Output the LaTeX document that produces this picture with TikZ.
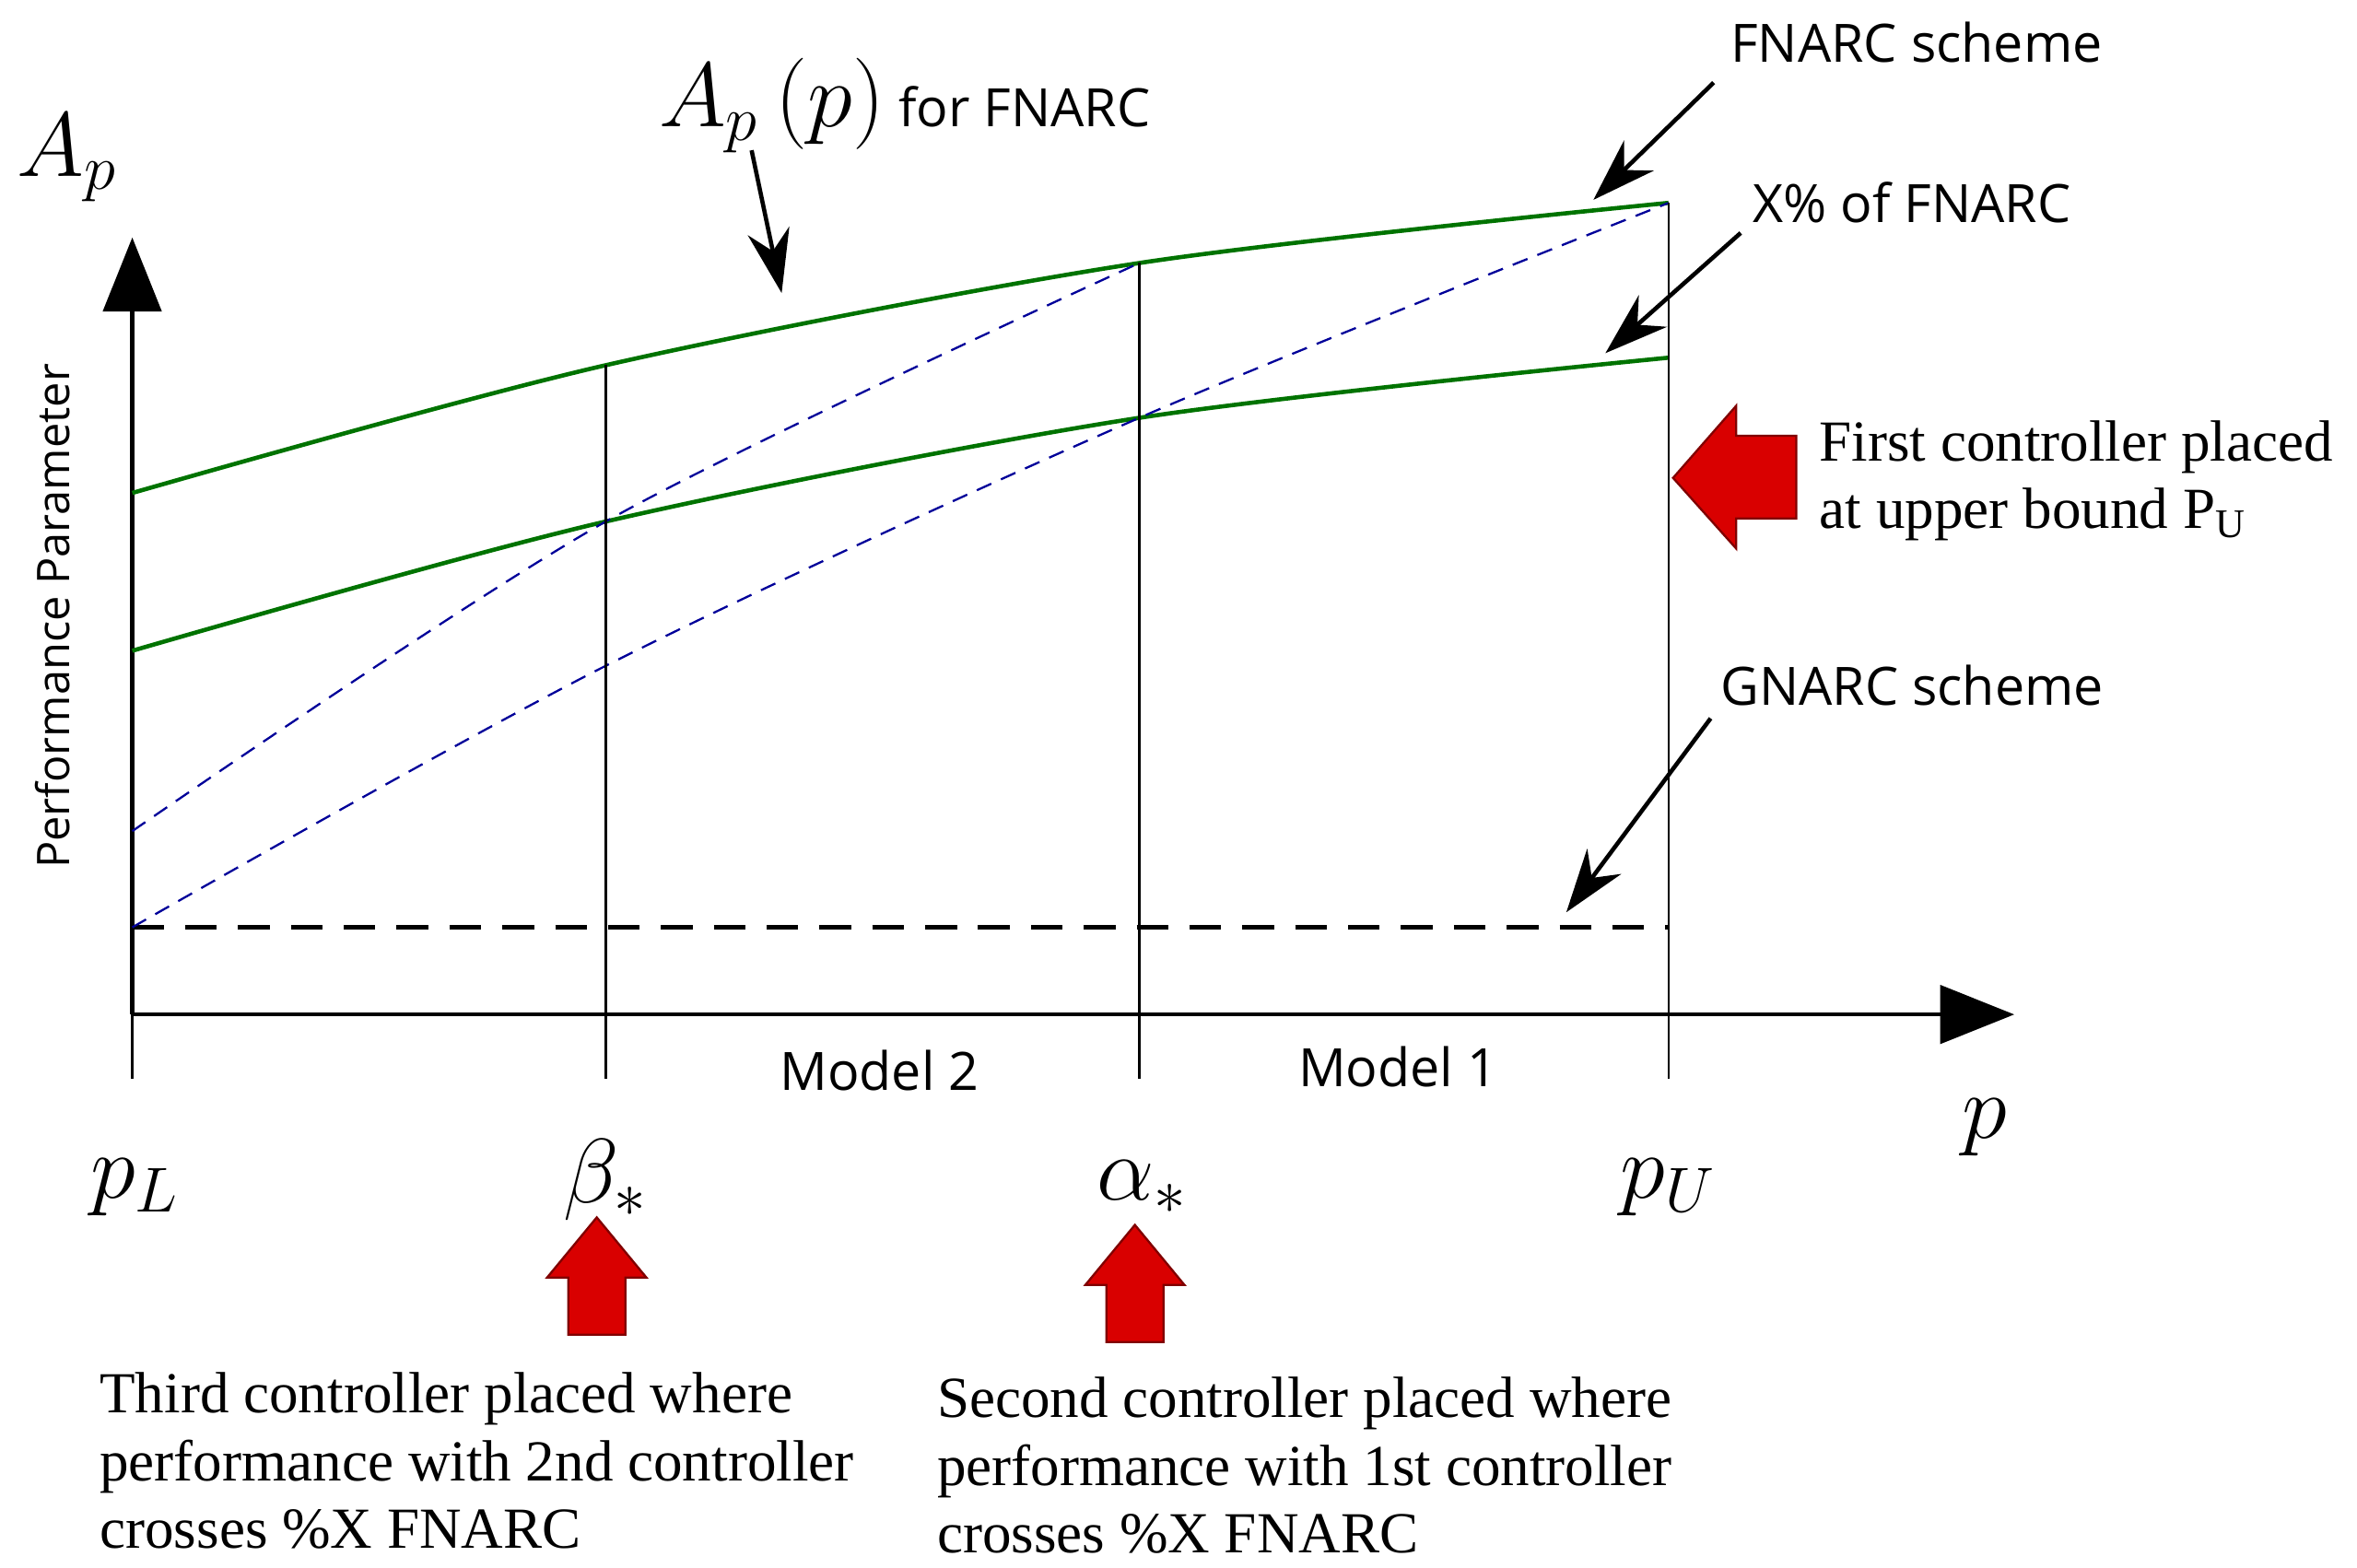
\documentclass[tikz,border=0pt]{standalone}
\usepackage{fontspec}
\setmainfont{Liberation Serif}
\newfontfamily\sansf{Open Sans}
\usetikzlibrary{arrows.meta,positioning}
\tikzset{
    %standard arrow tips
    >=Stealth,
    % curves of the schemes
    curve/.style={draw=green!45!black, thick},
    % blue dashed lines
    perf/.style={draw=blue!60!black, densely dashed, thin},
    % pointer arrows
    pil/.style={->, thick, >={Stealth[length=12pt,width=8pt]}},
    % labels
    lab/.style={font=\sansf\fontsize{10}{12}\selectfont},
    serif/.style={font=\fontsize{11}{12.8}\selectfont, align=left, anchor=west},
    bigm/.style={font=\fontsize{18}{20}\selectfont},
    bigarrow/.style={fill=red!85!black, draw=red!50!black, thin}
}
\begin{document}
\begin{tikzpicture}[x=0.01cm, y=-0.01cm]
\useasboundingbox (0,0) rectangle (1568,1043);
% axes
\coordinate (O) at (88,675);
\coordinate (ytop) at (88,158);
\coordinate (xend) at (1340,675);
\draw[thick, -{Triangle[length=14pt,width=11pt]}] (O) -- (ytop);
\draw[thick, -{Triangle[length=14pt,width=11pt]}] (O) -- (xend);
% curves
\coordinate (f0) at (88,328);
\coordinate (f1) at (403,243);
\coordinate (f2) at (758,175);
\coordinate (f3) at (1110,135);
\coordinate (x0) at (88,433);
\coordinate (x1) at (403,347);
\coordinate (x2) at (758,278);
\coordinate (x3) at (1110,238);
\draw[curve] plot[smooth] coordinates {(f0) (f1) (f2) (f3)};
\draw[curve] plot[smooth] coordinates {(x0) (x1) (x2) (x3)};
% GNARC level
\coordinate (g0) at (88,617);
\coordinate (g1) at (1110,617);
\draw[thick, dash pattern=on 6pt off 4pt] (g0) -- (g1);
% performance lines
\coordinate (b0) at (88,553);
\coordinate (b1) at (403,443);
\draw[perf] plot[smooth] coordinates {(b0) (x1) (f2)};
\draw[perf] plot[smooth] coordinates {(g0) (b1) (x2) (f3)};
% vertical lines
\coordinate (vL) at (88,718);
\coordinate (vB) at (403,718);
\coordinate (vA) at (758,718);
\coordinate (vU) at (1110,718);
\draw (O) -- (vL);
\draw (f1) -- (vB);
\draw (f2) -- (vA);
\draw (f3) -- (vU);
% labels
\node[bigm] (ap) at (45,105) {$A_p$};
\node[lab, rotate=90, font=\sansf\fontsize{8.5}{10}\selectfont] (perfpar) at (35,410) {Performance Parameter};
\node[lab, anchor=west] (apfn) at (426,70) {\fontsize{18}{20}\selectfont$A_p\,(p)$\sansf\fontsize{10}{12}\selectfont\ for FNARC};
\node[lab] (fnarc) at (1275,28) {FNARC scheme};
\node[lab] (xpct) at (1272,135) {X\% of FNARC};
\node[lab] (gnarc) at (1272,456) {GNARC scheme};
\node[lab] (m2) at (585,712) {Model 2};
\node[lab] (m1) at (930,710) {Model 1};
\node[bigm] (pp) at (1320,750) {$p$};
\node[bigm] (pL) at (90,790) {$p_L$};
\node[bigm] (beta) at (403,785) {$\beta_*$};
\node[bigm] (alpha) at (760,790) {$\alpha_*$};
\node[bigm] (pU) at (1110,790) {$p_U$};
% pointers
\coordinate (t1) at (520,195);
\coordinate (t2) at (1060,133);
\coordinate (t3) at (1068,235);
\coordinate (t4) at (1042,607);
\draw[pil] (500,100) -- (t1);
\draw[pil] (1140,55) -- (t2);
\draw[pil] (1158,155) -- (t3);
\draw[pil] (1138,478) -- (t4);
% red arrows
\draw[bigarrow] (1113,318) -- (1155,270) -- (1155,290) -- (1195,290) -- (1195,345) -- (1155,345) -- (1155,365) -- cycle;
\foreach \ax/\ay in {397/810, 755/815}{
  \draw[bigarrow] (\ax,\ay) -- (\ax+33,\ay+40) -- (\ax+19,\ay+40) -- (\ax+19,\ay+78)
     -- (\ax-19,\ay+78) -- (\ax-19,\ay+40) -- (\ax-33,\ay+40) -- cycle;
}
% explanations
\node[serif] (first) at (1198,320) {First controller placed\\at upper bound P\textsubscript{U}};
\node[serif] (third) at (54,972) {Third controller placed where\\performance with 2nd controller\\crosses \%X FNARC};
\node[serif] (second) at (611,975) {Second controller placed where\\performance with 1st controller\\crosses \%X FNARC};
\end{tikzpicture}
\end{document}
